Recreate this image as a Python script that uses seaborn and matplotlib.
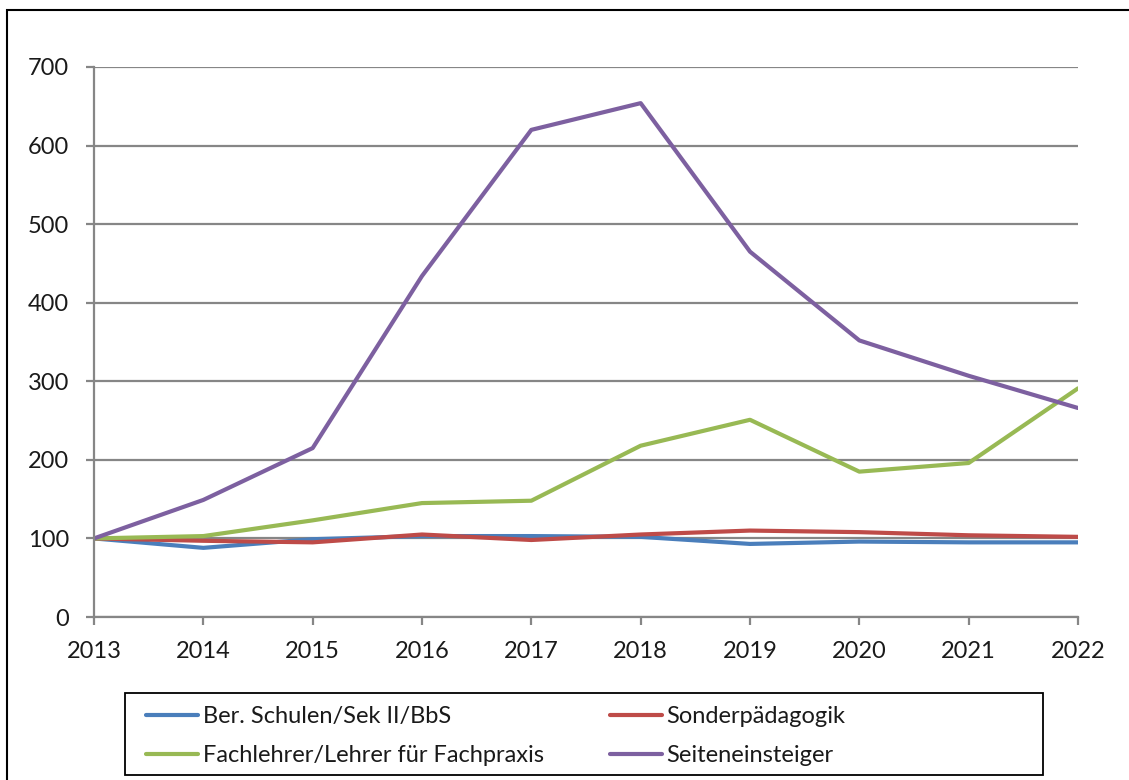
import matplotlib
matplotlib.use("Agg")
import matplotlib.pyplot as plt
import seaborn as sns
import pandas as pd
from matplotlib.patches import Rectangle

years = [2013, 2014, 2015, 2016, 2017, 2018, 2019, 2020, 2021, 2022]
ber_schulen = [100, 88, 99, 103, 103, 102, 93, 96, 95, 95]
sonderpaed = [100, 97, 95, 105, 98, 105, 110, 108, 104, 102]
fachlehrer = [100, 103, 123, 145, 148, 218, 251, 185, 196, 291]
seiteneinsteiger = [100, 149, 215, 434, 620, 654, 465, 352, 307, 266]

series_names = ["Ber. Schulen/Sek II/BbS", "Sonderpädagogik",
                "Fachlehrer/Lehrer für Fachpraxis", "Seiteneinsteiger"]
series_values = [ber_schulen, sonderpaed, fachlehrer, seiteneinsteiger]
colors = ["#4A7EBB", "#BE4B48", "#98B954", "#7D60A0"]

rows = []
for name, vals in zip(series_names, series_values):
    for y, v in zip(years, vals):
        rows.append({"Jahr": y, "Wert": v, "Reihe": name})
df = pd.DataFrame(rows)

sns.set_style("white")
plt.rcParams['font.family'] = ['Lato', 'DejaVu Sans']

fig = plt.figure(figsize=(11.29, 7.80), dpi=100)
ax = fig.add_axes([94/1129, 1-617/780, (1078-94)/1129, (617-67)/780])

sns.lineplot(data=df, x="Jahr", y="Wert", hue="Reihe", hue_order=series_names,
             palette=colors, linewidth=3.0, ax=ax, legend=False)

grid_c = "#868686"
ax.set_xlim(2013, 2022)
ax.set_ylim(0, 700)
ax.set_yticks(range(0, 701, 100))
ax.set_xticks(years)
ax.set_xticklabels([str(y) for y in years])
ax.yaxis.grid(True, color=grid_c, linewidth=1.6)
ax.xaxis.grid(False)
ax.set_axisbelow(True)
for s in ["top", "right"]:
    ax.spines[s].set_visible(False)
for s in ["left", "bottom"]:
    ax.spines[s].set_color(grid_c)
    ax.spines[s].set_linewidth(1.6)
ax.tick_params(axis="both", which="major", direction="out", length=6, width=1.6,
               color=grid_c, labelsize=17, labelcolor="#1a1a1a")
ax.tick_params(axis="y", pad=12, left=True)
ax.tick_params(axis="x", pad=11, bottom=True)
ax.set_xlabel("")
ax.set_ylabel("")

lines = ax.get_lines()[:4]
order = [0, 2, 1, 3]
leg = fig.legend([lines[i] for i in order], [series_names[i] for i in order],
                 ncol=2, loc="center left",
                 bbox_to_anchor=(146/1129, 1-736/780),
                 fontsize=17, frameon=False,
                 handlelength=2.2, handletextpad=0.2, columnspacing=2.8,
                 labelspacing=0.78, borderpad=0.0, borderaxespad=0.0)
for t in leg.get_texts():
    t.set_color("#1a1a1a")

fig.patches.append(Rectangle((125/1129, 1-775/780), (1043-125)/1129, (775-693)/780,
                             transform=fig.transFigure, fill=False,
                             edgecolor="black", linewidth=1.3))
fig.patches.append(Rectangle((7/1129, -0.2), 1.2, 1.2 - 10/780, transform=fig.transFigure,
                             fill=False, edgecolor="black", linewidth=1.5))

fig.savefig("out.png", dpi=100)
